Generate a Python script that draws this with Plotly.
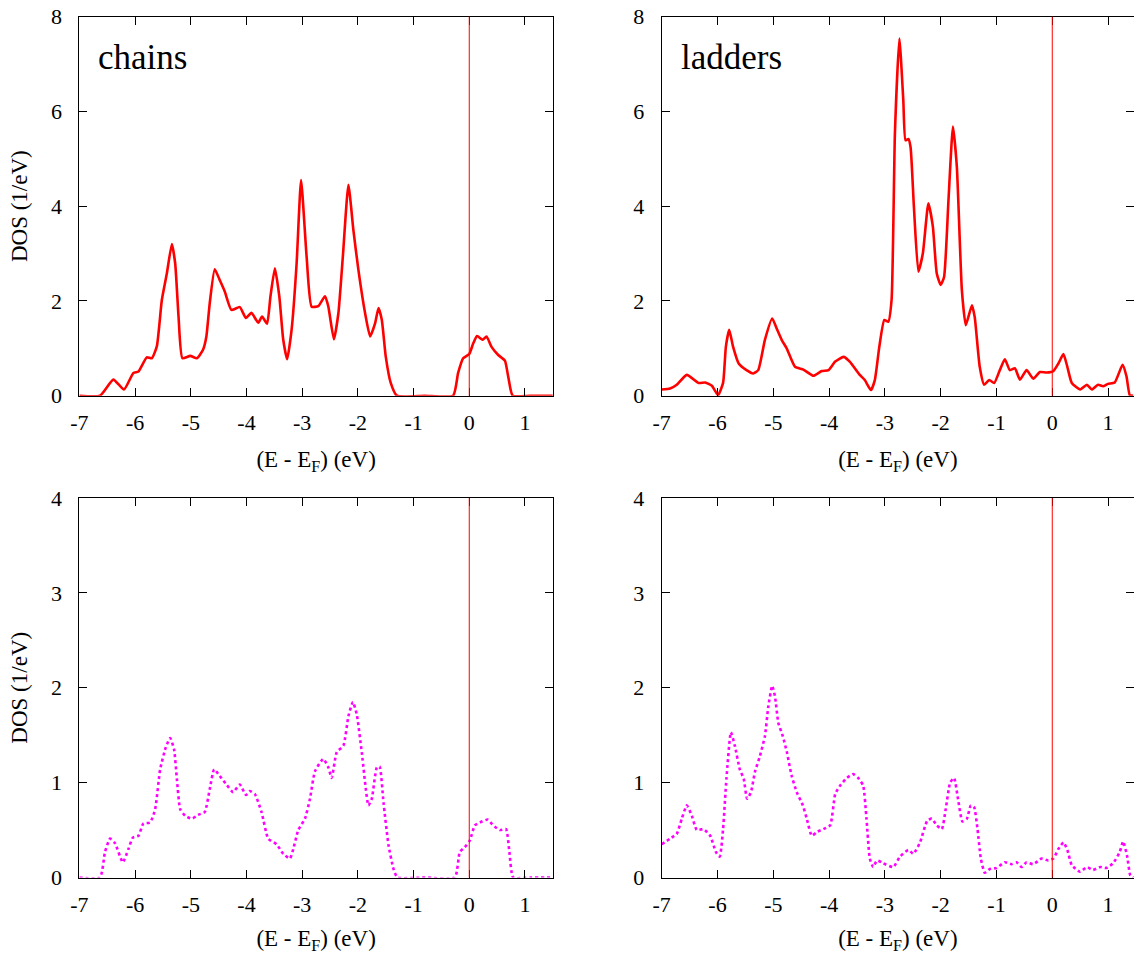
import plotly.graph_objects as go

# ---------------- data ----------------
chains_E = [-7.0, -6.63, -6.39, -6.2, -6.03, -5.94, -5.79, -5.70, -5.61, -5.52, -5.43, -5.34, -5.28,
            -5.22, -5.15, -5.01, -4.89, -4.78, -4.72, -4.66, -4.57, -4.48, -4.39, -4.27, -4.12, -4.01,
            -3.91, -3.79, -3.72, -3.63, -3.57, -3.49, -3.41, -3.34, -3.27, -3.19, -3.10, -3.02, -2.92,
            -2.83, -2.71, -2.59, -2.53, -2.43, -2.35, -2.27, -2.17, -2.08, -1.99, -1.87, -1.78, -1.69,
            -1.63, -1.57, -1.50, -1.41, -1.30, -0.8, -0.29, -0.20, -0.11, 0.0, 0.07, 0.14, 0.24, 0.31,
            0.40, 0.52, 0.64, 0.70, 0.78, 1.1, 1.5]
chains_dos = [0, 0, 0.34, 0.13, 0.48, 0.51, 0.81, 0.79, 1.04, 2.02, 2.58, 3.2, 2.79,
              1.67, 0.79, 0.84, 0.79, 0.97, 1.25, 1.95, 2.67, 2.44, 2.2, 1.81, 1.87, 1.64,
              1.75, 1.54, 1.67, 1.52, 2.09, 2.69, 2.09, 1.18, 0.77, 1.39, 2.79, 4.55, 2.93,
              1.88, 1.89, 2.1, 1.88, 1.19, 1.74, 2.93, 4.45, 3.49, 2.65, 1.74, 1.25, 1.53,
              1.85, 1.6, 0.83, 0.27, 0, 0, 0, 0.48, 0.79, 0.88, 1.1, 1.26, 1.18, 1.25,
              1.03, 0.86, 0.74, 0.4, 0, 0, 0]

ladders_E = [-7.0, -6.85, -6.73, -6.55, -6.34, -6.22, -6.10, -5.99, -5.90, -5.85, -5.79, -5.72, -5.62,
             -5.48, -5.36, -5.27, -5.15, -5.02, -4.94, -4.85, -4.76, -4.61, -4.46, -4.28, -4.13, -4.01,
             -3.89, -3.74, -3.63, -3.45, -3.36, -3.25, -3.18, -3.10, -3.01, -2.94, -2.88, -2.82, -2.74,
             -2.67, -2.63, -2.58, -2.54, -2.48, -2.40, -2.32, -2.22, -2.14, -2.07, -2.0, -1.94, -1.86,
             -1.78, -1.71, -1.62, -1.55, -1.44, -1.39, -1.30, -1.22, -1.13, -1.04, -0.94, -0.85, -0.76,
             -0.67, -0.58, -0.46, -0.34, -0.22, -0.10, 0.02, 0.11, 0.20, 0.27, 0.35, 0.50, 0.62, 0.71,
             0.82, 0.91, 1.0, 1.12, 1.26, 1.33, 1.39, 1.45]
ladders_dos = [0.13, 0.15, 0.23, 0.44, 0.27, 0.28, 0.21, 0.01, 0.27, 1.03, 1.39, 1.03, 0.68,
               0.54, 0.47, 0.54, 1.18, 1.63, 1.42, 1.18, 1.0, 0.61, 0.55, 0.42, 0.52, 0.54,
               0.72, 0.82, 0.72, 0.44, 0.33, 0.12, 0.33, 1.03, 1.6, 1.56, 2.02, 5.54, 7.54,
               6.24, 5.39, 5.42, 5.25, 3.99, 2.62, 3.0, 4.06, 3.57, 2.58, 2.34, 2.5, 4.13,
               5.68, 4.83, 2.23, 1.49, 1.91, 1.66, 0.61, 0.23, 0.33, 0.27, 0.54, 0.77, 0.54,
               0.58, 0.34, 0.54, 0.36, 0.5, 0.49, 0.52, 0.68, 0.88, 0.61, 0.27, 0.13, 0.23, 0.13,
               0.23, 0.2, 0.25, 0.28, 0.65, 0.41, 0.01, 0.0]

chains_p_E = [-7.0, -6.63, -6.54, -6.45, -6.36, -6.22, -6.12, -6.04, -5.94, -5.85, -5.73, -5.64, -5.55,
              -5.45, -5.37, -5.30, -5.25, -5.19, -5.10, -4.98, -4.87, -4.75, -4.66, -4.58, -4.48, -4.36,
              -4.24, -4.12, -4.01, -3.94, -3.85, -3.73, -3.61, -3.46, -3.34, -3.22, -3.16, -3.07, -2.95,
              -2.86, -2.77, -2.62, -2.53, -2.47, -2.38, -2.26, -2.17, -2.09, -2.02, -1.93, -1.81, -1.75,
              -1.66, -1.61, -1.54, -1.45, -1.36, -1.29, -0.8, -0.26, -0.17, -0.08, 0.01, 0.10, 0.19,
              0.33, 0.43, 0.55, 0.66, 0.72, 0.79, 1.1, 1.5]
chains_p_dos = [0, 0, 0.27, 0.41, 0.36, 0.16, 0.30, 0.42, 0.44, 0.57, 0.58, 0.72, 1.14,
                1.37, 1.47, 1.35, 1.04, 0.72, 0.65, 0.62, 0.66, 0.69, 0.93, 1.14, 1.07, 0.98,
                0.90, 0.98, 0.87, 0.91, 0.88, 0.69, 0.41, 0.35, 0.25, 0.2, 0.30, 0.50, 0.62,
                0.83, 1.12, 1.25, 1.16, 1.05, 1.32, 1.39, 1.70, 1.85, 1.72, 1.32, 0.76, 0.83,
                1.16, 1.17, 0.79, 0.34, 0.09, 0, 0, 0, 0.27, 0.32, 0.39, 0.55, 0.58,
                0.61, 0.55, 0.50, 0.51, 0.27, 0, 0, 0]

ladders_p_E = [-7.0, -6.85, -6.73, -6.64, -6.55, -6.46, -6.37, -6.25, -6.13, -6.03, -5.96, -5.90, -5.84,
               -5.76, -5.69, -5.60, -5.53, -5.47, -5.40, -5.33, -5.24, -5.15, -5.09, -5.02, -4.97, -4.91,
               -4.83, -4.76, -4.67, -4.58, -4.47, -4.40, -4.31, -4.22, -4.10, -3.98, -3.89, -3.80, -3.68,
               -3.57, -3.48, -3.39, -3.33, -3.27, -3.21, -3.14, -3.03, -2.85, -2.73, -2.58, -2.49, -2.37,
               -2.24, -2.16, -2.07, -1.98, -1.91, -1.83, -1.76, -1.69, -1.61, -1.53, -1.46, -1.40, -1.34,
               -1.28, -1.21, -1.12, -1.00, -0.85, -0.73, -0.64, -0.55, -0.46, -0.34, -0.19, -0.07, 0.02,
               0.11, 0.20, 0.27, 0.35, 0.50, 0.62, 0.73, 0.86, 0.97, 1.09, 1.21, 1.27, 1.34, 1.40, 1.45]
ladders_p_dos = [0.35, 0.41, 0.46, 0.62, 0.76, 0.65, 0.5, 0.51, 0.44, 0.27, 0.22, 0.51, 1.04,
                 1.53, 1.39, 1.14, 1.04, 0.83, 0.9, 1.11, 1.28, 1.49, 1.80, 2.02, 1.91, 1.63,
                 1.49, 1.33, 1.07, 0.9, 0.76, 0.62, 0.44, 0.48, 0.51, 0.55, 0.88, 0.97, 1.05,
                 1.09, 1.05, 0.97, 0.62, 0.2, 0.11, 0.18, 0.15, 0.11, 0.22, 0.29, 0.25, 0.37,
                 0.6, 0.62, 0.55, 0.51, 0.72, 1.0, 1.05, 0.83, 0.59, 0.62, 0.76, 0.74, 0.51,
                 0.2, 0.05, 0.09, 0.1, 0.16, 0.14, 0.16, 0.11, 0.16, 0.14, 0.2, 0.18, 0.2,
                 0.3, 0.37, 0.29, 0.13, 0.06, 0.11, 0.08, 0.11, 0.1, 0.15, 0.27, 0.38, 0.23, 0.02, 0.0]

x_ticks = [-7, -6, -5, -4, -3, -2, -1, 0, 1]
x_tick_text = ["-7", "-6", "-5", "-4", "-3", "-2", "-1", "0", "1"]
y_ticks_top = [0, 2, 4, 6, 8]
y_ticks_bot = [0, 1, 2, 3, 4]
panel_labels = ["chains", "ladders"]

FONT = "Liberation Serif, Times New Roman, Times, serif"
RED = "#ff0000"
MAG = "#ff00ff"

fig = go.Figure()

fig.add_trace(go.Scatter(x=chains_E, y=chains_dos, mode="lines", xaxis="x", yaxis="y",
                         line=dict(color=RED, width=2.6, shape="spline", smoothing=0.5)))
fig.add_trace(go.Scatter(x=ladders_E, y=ladders_dos, mode="lines", xaxis="x2", yaxis="y2",
                         line=dict(color=RED, width=2.6, shape="spline", smoothing=0.5)))
fig.add_trace(go.Scatter(x=chains_p_E, y=chains_p_dos, mode="lines", xaxis="x3", yaxis="y3",
                         line=dict(color=MAG, width=2.6, dash="dot", shape="spline", smoothing=0.5)))
fig.add_trace(go.Scatter(x=ladders_p_E, y=ladders_p_dos, mode="lines", xaxis="x4", yaxis="y4",
                         line=dict(color=MAG, width=2.6, dash="dot", shape="spline", smoothing=0.5)))

xl = [79.4 / 1134, 552.8 / 1134]
xr = [661.7 / 1134, 1.0]
yt = [(954 - 395.7) / 954, (954 - 16.7) / 954]
yb = [(954 - 877.5) / 954, (954 - 498) / 954]

tickfont = dict(family=FONT, size=22, color="black")
titlefont = dict(family=FONT, size=23, color="black")


def xax(domain, anchor, rng):
    return dict(domain=domain, anchor=anchor, range=rng, tickvals=x_ticks, ticktext=x_tick_text,
                ticks="inside", ticklen=8, tickcolor="black", mirror="allticks",
                showline=True, linecolor="black", linewidth=1, showgrid=False, zeroline=False,
                tickfont=tickfont, ticklabelstandoff=7, automargin=False,
                title=dict(text="(E - E<sub>F</sub>) (eV)", font=titlefont, standoff=16))


def yax(domain, anchor, rng, vals, title):
    d = dict(domain=domain, anchor=anchor, range=rng, tickvals=vals,
             ticks="inside", ticklen=8, tickcolor="black", mirror="allticks",
             showline=True, linecolor="black", linewidth=1, showgrid=False, zeroline=False,
             tickfont=tickfont, ticklabelstandoff=12, automargin=False)
    if title:
        d["title"] = dict(text="DOS (1/eV)", font=titlefont, standoff=16)
    return d


fig.update_layout(
    width=1134, height=954,
    margin=dict(l=0, r=0, t=0, b=0),
    paper_bgcolor="white", plot_bgcolor="white",
    showlegend=False,
    font=dict(family=FONT),
    xaxis=xax(xl, "y", [-7, 1.5]),
    yaxis=yax(yt, "x", [0, 8], y_ticks_top, True),
    xaxis2=xax(xr, "y2", [-7, 1.465]),
    yaxis2=yax(yt, "x2", [0, 8], y_ticks_top, False),
    xaxis3=xax(xl, "y3", [-7, 1.5]),
    yaxis3=yax(yb, "x3", [0, 4], y_ticks_bot, True),
    xaxis4=xax(xr, "y4", [-7, 1.465]),
    yaxis4=yax(yb, "x4", [0, 4], y_ticks_bot, False),
)

# Fermi level lines
for xa, ya in [("x", "y"), ("x2", "y2"), ("x3", "y3"), ("x4", "y4")]:
    fig.add_shape(type="line", xref=xa, yref=ya + " domain", x0=0, x1=0, y0=0, y1=1,
                  line=dict(color=RED, width=1))

fig.add_annotation(text=panel_labels[0], xref="paper", yref="paper", x=96 / 1134, y=(954 - 58) / 954,
                   xanchor="left", yanchor="middle", showarrow=False,
                   font=dict(family=FONT, size=35, color="black"))
fig.add_annotation(text=panel_labels[1], xref="paper", yref="paper", x=679 / 1134, y=(954 - 58) / 954,
                   xanchor="left", yanchor="middle", showarrow=False,
                   font=dict(family=FONT, size=35, color="black"))

fig.write_html("out.html")
